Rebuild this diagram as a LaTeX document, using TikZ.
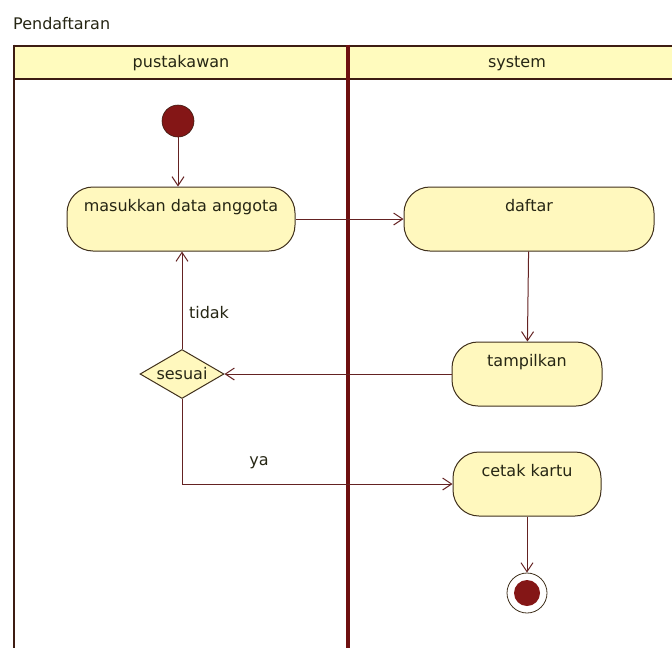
\documentclass[tikz,border=0pt]{standalone}
\usepackage{fontspec}
\setmainfont{DejaVu Sans}
\usetikzlibrary{arrows.meta,shapes.geometric}
\definecolor{lanered}{HTML}{6E1010}
\definecolor{laneedge}{HTML}{3E1C12}
\definecolor{headfill}{HTML}{FFFBBE}
\definecolor{actfill}{HTML}{FFF8BE}
\definecolor{actedge}{HTML}{40301C}
\definecolor{flowcol}{HTML}{642222}
\definecolor{dotred}{HTML}{841616}
\definecolor{txt}{HTML}{262614}
\begin{document}
\begin{tikzpicture}[x=1pt,y=-1pt,
  every node/.style={font=\fontsize{16}{19}\selectfont, text=txt, inner sep=0pt},
  act/.style={draw=actedge, line width=1pt, fill=actfill, rectangle,
    rounded corners=26pt, minimum height=64pt, text height=11pt, text depth=26pt},
  decision/.style={draw=actedge, line width=1pt, fill=actfill, diamond,
    aspect=1.7, minimum width=84pt, minimum height=49pt},
  flow/.style={draw=flowcol, line width=1pt, -{Straight Barb[length=9pt,width=12pt,line width=1pt]}},
  guard/.style={anchor=center}]
\useasboundingbox (0,0) rectangle (672,648);

% swimlane frame
\fill[headfill] (14,46) rectangle (672,79);
\draw[laneedge, line width=2.6pt] (14,46) -- (672,46);
\draw[laneedge, line width=2.6pt] (14,79) -- (672,79);
\draw[laneedge, line width=2.8pt] (14,44.7) -- (14,648);
\draw[lanered, line width=4.5pt] (348,44.7) -- (348,648);

\node[anchor=west] (title) at (13,24) {Pendaftaran};
\node (laneA) at (181,63) {pustakawan};
\node (laneB) at (517,64) {system};

% activity nodes
\node[circle, draw=laneedge, line width=0.6pt, fill=dotred, minimum size=32pt] (start) at (178,121) {};
\node[act, minimum width=228pt] (masuk) at (181,219) {masukkan data anggota};
\node[act, minimum width=250pt] (daftar) at (529,219) {daftar};
\node[act, minimum width=150pt] (tamp) at (527,374) {tampilkan};
\node[decision] (sesuai) at (182,374) {sesuai};
\node[act, minimum width=148pt] (cetak) at (527,484) {cetak kartu};
\node[circle, draw=actedge, line width=0.8pt, fill=white, minimum size=40pt] (final) at (527,593) {};
\node[circle, fill=dotred, minimum size=26pt] (finaldot) at (final) {};

% transitions
\draw[flow] (start) -- (start |- masuk.north);
\draw[flow] (masuk) -- (daftar);
\draw[flow] (daftar) -- (tamp);
\draw[flow] (tamp) -- (sesuai);
\draw[flow] (sesuai) -- (sesuai |- masuk.south);
\draw[flow] (sesuai.south) |- (cetak.west);
\draw[flow] (cetak) -- (final);

\node[guard] (tidak) at (209,313) {tidak};
\node[guard] (ya) at (259,463) {ya};
\end{tikzpicture}
\end{document}
